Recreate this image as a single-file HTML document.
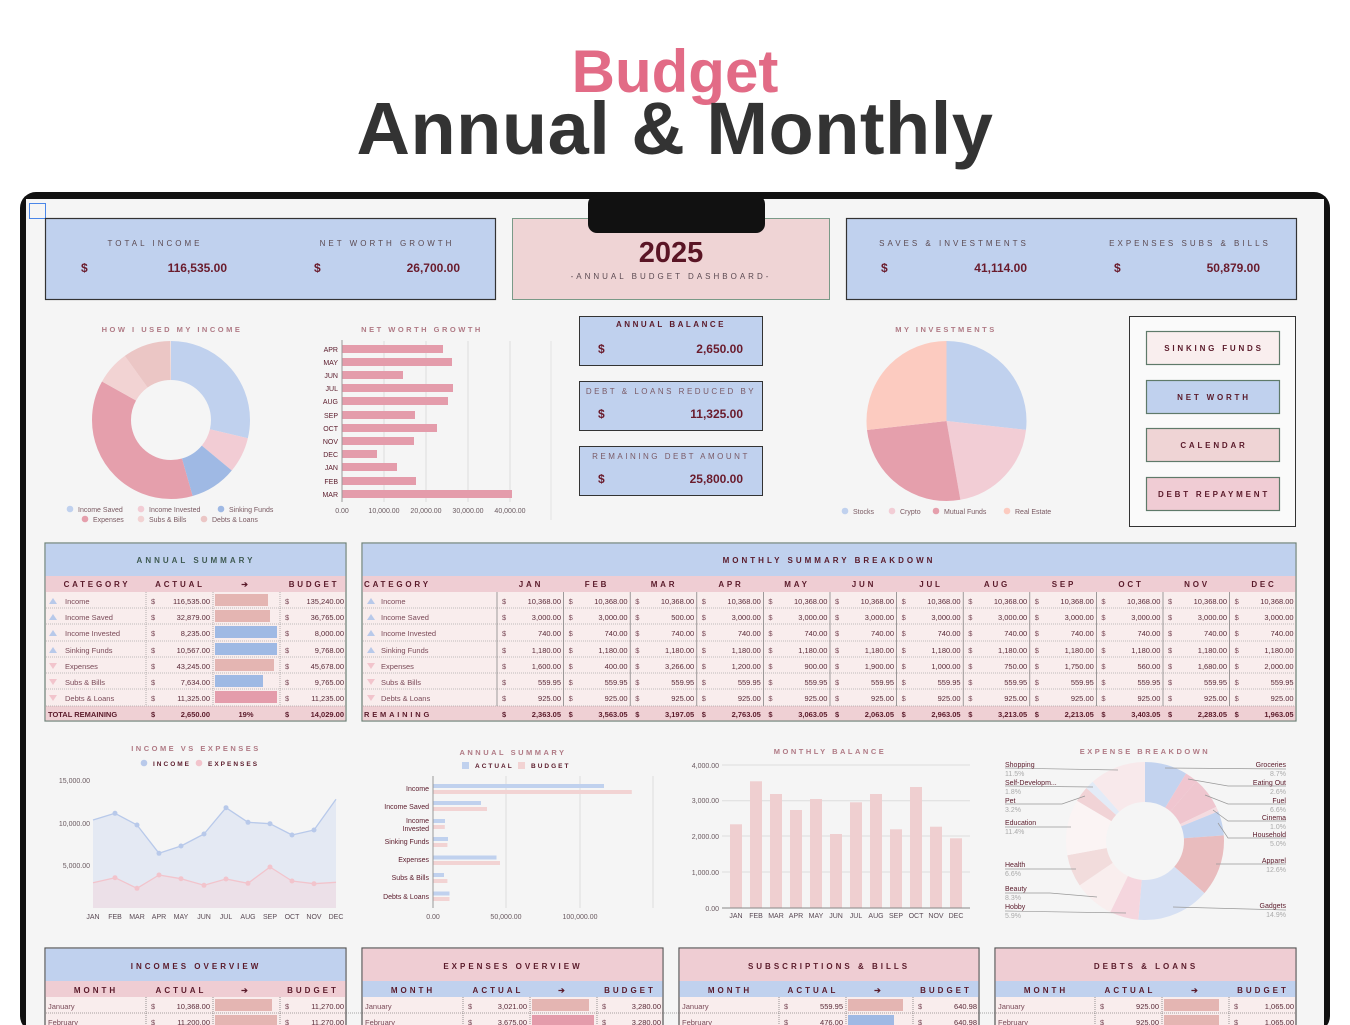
<!DOCTYPE html>
<html><head><meta charset="utf-8"><style>
html,body{margin:0;padding:0;background:#fff;width:1350px;height:1025px;overflow:hidden;}
svg{display:block;font-family:"Liberation Sans",sans-serif;}
</style></head><body>
<svg width="1350" height="1025" viewBox="0 0 1350 1025" xmlns="http://www.w3.org/2000/svg">
<!-- titles -->
<text x="675" y="92" text-anchor="middle" font-size="60" font-weight="bold" fill="#e26b86">Budget</text>
<text x="675" y="154" text-anchor="middle" font-size="74" font-weight="bold" fill="#333" letter-spacing="0.5">Annual &amp; Monthly</text>
<!-- device -->
<rect x="20" y="192" width="1310" height="840" rx="16" fill="#111"/>
<rect x="26" y="199" width="1298" height="830" fill="#f5f5f5"/>
<rect x="29.5" y="203.5" width="16" height="15" fill="none" stroke="#4a86e8" stroke-width="1"/>

<g font-weight="bold">
<!-- top cards -->
<rect x="45.5" y="218.5" width="450" height="81" fill="#c0d1ee" stroke="#333" stroke-width="1.2"/>
<text x="155" y="246" text-anchor="middle" font-size="8" letter-spacing="3" fill="#5b4a52" font-weight="normal">TOTAL INCOME</text>
<text x="387" y="246" text-anchor="middle" font-size="8" letter-spacing="3" fill="#5b4a52" font-weight="normal">NET WORTH GROWTH</text>
<text x="81" y="272" font-size="12" fill="#6a1b2c">$</text>
<text x="227" y="272" text-anchor="end" font-size="12" fill="#6a1b2c">116,535.00</text>
<text x="314" y="272" font-size="12" fill="#6a1b2c">$</text>
<text x="460" y="272" text-anchor="end" font-size="12" fill="#6a1b2c">26,700.00</text>

<rect x="512.5" y="218.5" width="317" height="81" fill="#efd4d5" stroke="#7a9a88" stroke-width="1"/>
<rect x="588" y="195" width="177" height="38" rx="9" fill="#111"/>
<text x="671" y="262" text-anchor="middle" font-size="29" fill="#5a1525">2025</text>
<text x="671" y="279" text-anchor="middle" font-size="8" letter-spacing="3" fill="#5b4a52" font-weight="normal">-ANNUAL BUDGET DASHBOARD-</text>

<rect x="846.5" y="218.5" width="450" height="81" fill="#c0d1ee" stroke="#333" stroke-width="1.2"/>
<text x="954" y="246" text-anchor="middle" font-size="8" letter-spacing="3" fill="#5b4a52" font-weight="normal">SAVES &amp; INVESTMENTS</text>
<text x="1190" y="246" text-anchor="middle" font-size="8" letter-spacing="3" fill="#5b4a52" font-weight="normal">EXPENSES SUBS &amp; BILLS</text>
<text x="881" y="272" font-size="12" fill="#6a1b2c">$</text>
<text x="1027" y="272" text-anchor="end" font-size="12" fill="#6a1b2c">41,114.00</text>
<text x="1114" y="272" font-size="12" fill="#6a1b2c">$</text>
<text x="1260" y="272" text-anchor="end" font-size="12" fill="#6a1b2c">50,879.00</text>

<!-- chart titles -->
<g font-size="7.5" letter-spacing="2.5" fill="#b07a85" text-anchor="middle">
<text x="172" y="332">HOW I USED MY INCOME</text>
<text x="422" y="332">NET WORTH GROWTH</text>
<text x="946" y="332">MY INVESTMENTS</text>
<text x="196" y="751">INCOME VS EXPENSES</text>
<text x="513" y="755">ANNUAL SUMMARY</text>
<text x="830" y="754">MONTHLY BALANCE</text>
<text x="1145" y="754">EXPENSE BREAKDOWN</text>
</g>
</g>

<!-- income donut -->
<g transform="rotate(-90 171 420)" fill="none" stroke-width="39">
<circle cx="171" cy="420" r="59.5" pathLength="100" stroke="#c0d1ee" stroke-dasharray="28.75 100"/>
<circle cx="171" cy="420" r="59.5" pathLength="100" stroke="#f2ccd4" stroke-dasharray="7.33 100" stroke-dashoffset="-28.75"/>
<circle cx="171" cy="420" r="59.5" pathLength="100" stroke="#9fb9e4" stroke-dasharray="9.56 100" stroke-dashoffset="-36.08"/>
<circle cx="171" cy="420" r="59.5" pathLength="100" stroke="#e59fac" stroke-dasharray="37.56 100" stroke-dashoffset="-45.64"/>
<circle cx="171" cy="420" r="59.5" pathLength="100" stroke="#f2d3d3" stroke-dasharray="6.97 100" stroke-dashoffset="-83.2"/>
<circle cx="171" cy="420" r="59.5" pathLength="100" stroke="#ebc6c5" stroke-dasharray="9.83 100" stroke-dashoffset="-90.17"/>
</g>
<g font-size="7" fill="#7a5a62">
<circle cx="70" cy="509" r="3.3" fill="#c0d1ee"/><text x="78" y="512">Income Saved</text>
<circle cx="141" cy="509" r="3.3" fill="#f2ccd4"/><text x="149" y="512">Income Invested</text>
<circle cx="221" cy="509" r="3.3" fill="#9fb9e4"/><text x="229" y="512">Sinking Funds</text>
<circle cx="85" cy="519" r="3.3" fill="#e59fac"/><text x="93" y="522">Expenses</text>
<circle cx="141" cy="519" r="3.3" fill="#f2d3d3"/><text x="149" y="522">Subs &amp; Bills</text>
<circle cx="204" cy="519" r="3.3" fill="#ebc6c5"/><text x="212" y="522">Debts &amp; Loans</text>
</g>

<!-- net worth bars -->
<g stroke="#ddd" stroke-width="1"><line x1="384" y1="341" x2="384" y2="502"/><line x1="426" y1="341" x2="426" y2="502"/><line x1="468" y1="341" x2="468" y2="502"/><line x1="510" y1="341" x2="510" y2="502"/><line x1="551" y1="341" x2="551" y2="520" stroke="#e2e2e2"/></g>
<g fill="#e49cab">
<rect x="342" y="345" width="101" height="8"/><rect x="342" y="358" width="110" height="8"/><rect x="342" y="371" width="61" height="8"/><rect x="342" y="384" width="111" height="8"/><rect x="342" y="397" width="106" height="8"/><rect x="342" y="411" width="73" height="8"/><rect x="342" y="424" width="95" height="8"/><rect x="342" y="437" width="72" height="8"/><rect x="342" y="450" width="35" height="8"/><rect x="342" y="463" width="55" height="8"/><rect x="342" y="477" width="74" height="8"/><rect x="342" y="490" width="170" height="8"/>
</g>
<line x1="342" y1="340" x2="342" y2="502" stroke="#999"/>
<g font-size="7" fill="#5a1a2a" text-anchor="end">
<text x="338" y="352">APR</text><text x="338" y="365">MAY</text><text x="338" y="378">JUN</text><text x="338" y="391">JUL</text><text x="338" y="404">AUG</text><text x="338" y="418">SEP</text><text x="338" y="431">OCT</text><text x="338" y="444">NOV</text><text x="338" y="457">DEC</text><text x="338" y="470">JAN</text><text x="338" y="484">FEB</text><text x="338" y="497">MAR</text>
</g>
<g font-size="7" fill="#6a5a60" text-anchor="middle">
<text x="342" y="513">0.00</text><text x="384" y="513">10,000.00</text><text x="426" y="513">20,000.00</text><text x="468" y="513">30,000.00</text><text x="510" y="513">40,000.00</text>
</g>

<!-- balance cards -->
<g font-weight="bold">
<rect x="579.5" y="316.5" width="183" height="49" fill="#c0d1ee" stroke="#333"/>
<text x="671" y="327" text-anchor="middle" font-size="8" letter-spacing="2.5" fill="#5a1a2a">ANNUAL BALANCE</text>
<text x="598" y="353" font-size="12" fill="#6a1b2c">$</text><text x="743" y="353" text-anchor="end" font-size="12" fill="#6a1b2c">2,650.00</text>
<rect x="579.5" y="381.5" width="183" height="49" fill="#c0d1ee" stroke="#333"/>
<text x="671" y="394" text-anchor="middle" font-size="8" letter-spacing="2.5" fill="#7a5a66" font-weight="normal">DEBT &amp; LOANS REDUCED BY</text>
<text x="598" y="418" font-size="12" fill="#6a1b2c">$</text><text x="743" y="418" text-anchor="end" font-size="12" fill="#6a1b2c">11,325.00</text>
<rect x="579.5" y="446.5" width="183" height="49" fill="#c0d1ee" stroke="#333"/>
<text x="671" y="459" text-anchor="middle" font-size="8" letter-spacing="2.5" fill="#7a5a66" font-weight="normal">REMAINING DEBT AMOUNT</text>
<text x="598" y="483" font-size="12" fill="#6a1b2c">$</text><text x="743" y="483" text-anchor="end" font-size="12" fill="#6a1b2c">25,800.00</text>
</g>

<!-- investments pie -->
<g transform="rotate(-90 946.5 421)" fill="none" stroke-width="80">
<circle cx="946.5" cy="421" r="40" pathLength="100" stroke="#c0d1ee" stroke-dasharray="26.78 100"/>
<circle cx="946.5" cy="421" r="40" pathLength="100" stroke="#f2cdd5" stroke-dasharray="20.44 100" stroke-dashoffset="-26.78"/>
<circle cx="946.5" cy="421" r="40" pathLength="100" stroke="#e59fac" stroke-dasharray="25.97 100" stroke-dashoffset="-47.22"/>
<circle cx="946.5" cy="421" r="40" pathLength="100" stroke="#fccbc0" stroke-dasharray="26.81 100" stroke-dashoffset="-73.19"/>
</g>
<g font-size="7" fill="#7a5a62">
<circle cx="845" cy="511" r="3.3" fill="#c0d1ee"/><text x="853" y="514">Stocks</text>
<circle cx="892" cy="511" r="3.3" fill="#f2cdd5"/><text x="900" y="514">Crypto</text>
<circle cx="936" cy="511" r="3.3" fill="#e59fac"/><text x="944" y="514">Mutual Funds</text>
<circle cx="1007" cy="511" r="3.3" fill="#fccbc0"/><text x="1015" y="514">Real Estate</text>
</g>

<!-- nav -->
<rect x="1129.5" y="316.5" width="166" height="210" fill="#fafafa" stroke="#333"/>
<g stroke="#5f7a6a" stroke-width="1.2">
<rect x="1146.5" y="331.5" width="133" height="33" fill="#f9eeee"/>
<rect x="1146.5" y="380.5" width="133" height="33" fill="#c0d1ee"/>
<rect x="1146.5" y="428.5" width="133" height="33" fill="#efd4d5"/>
<rect x="1146.5" y="477.5" width="133" height="33" fill="#f0ccd4"/>
</g>
<g font-size="8" font-weight="bold" letter-spacing="2.8" fill="#5a1a2a" text-anchor="middle">
<text x="1214" y="351">SINKING FUNDS</text><text x="1214" y="400">NET WORTH</text><text x="1214" y="448">CALENDAR</text><text x="1214" y="497">DEBT REPAYMENT</text>
</g>

<!-- ANNUAL SUMMARY TABLE -->
<rect x="45" y="543" width="301" height="178" fill="#f9eded" stroke="#6a7f74" stroke-width="1.2"/>
<rect x="45.6" y="543.6" width="299.8" height="32.4" fill="#c0d1ee"/>
<rect x="45.6" y="576" width="299.8" height="16" fill="#efcdd3"/>
<rect x="45.6" y="706" width="299.8" height="14.4" fill="#efd0d4"/>
<text x="196" y="563" text-anchor="middle" font-size="8" font-weight="bold" letter-spacing="3" fill="#3f5a52">ANNUAL SUMMARY</text>
<g font-size="8" font-weight="bold" letter-spacing="2.8" fill="#5a1a2a" text-anchor="middle">
<text x="97" y="587">CATEGORY</text><text x="180" y="587">ACTUAL</text><text x="246" y="587">➔</text><text x="314" y="587">BUDGET</text>
</g>
<g stroke="#888" stroke-width="0.6" stroke-dasharray="1 1">
<line x1="46" y1="608" x2="345" y2="608"/><line x1="46" y1="624" x2="345" y2="624"/><line x1="46" y1="641" x2="345" y2="641"/><line x1="46" y1="657" x2="345" y2="657"/><line x1="46" y1="673" x2="345" y2="673"/><line x1="46" y1="689" x2="345" y2="689"/><line x1="46" y1="706" x2="345" y2="706"/>
<line x1="146" y1="592" x2="146" y2="706"/><line x1="213" y1="592" x2="213" y2="706"/><line x1="280" y1="592" x2="280" y2="706"/>
</g>
<g fill="#b8c9ea"><path d="M49 604 L53 598 L57 604Z"/><path d="M49 620 L53 614 L57 620Z"/><path d="M49 636 L53 630 L57 636Z"/><path d="M49 653 L53 647 L57 653Z"/></g>
<g fill="#f2c4cc"><path d="M49 663 L53 669 L57 663Z"/><path d="M49 679 L53 685 L57 679Z"/><path d="M49 695 L53 701 L57 695Z"/></g>
<rect x="215" y="594" width="53" height="12" fill="#e4b5b2"/>
<rect x="215" y="610" width="55" height="12" fill="#e4b5b2"/>
<rect x="215" y="626" width="62" height="12" fill="#9fb9e4"/>
<rect x="215" y="643" width="62" height="12" fill="#9fb9e4"/>
<rect x="215" y="659" width="59" height="12" fill="#e4b5b2"/>
<rect x="215" y="675" width="48" height="12" fill="#9fb9e4"/>
<rect x="215" y="691" width="62" height="12" fill="#e49cab"/>
<g font-size="7.5" fill="#7a4a58">
<text x="65" y="604">Income</text><text x="65" y="620">Income Saved</text><text x="65" y="636">Income Invested</text><text x="65" y="653">Sinking Funds</text><text x="65" y="669">Expenses</text><text x="65" y="685">Subs &amp; Bills</text><text x="65" y="701">Debts &amp; Loans</text>
<text x="151" y="604">$</text><text x="151" y="620">$</text><text x="151" y="636">$</text><text x="151" y="653">$</text><text x="151" y="669">$</text><text x="151" y="685">$</text><text x="151" y="701">$</text>
<text x="285" y="604">$</text><text x="285" y="620">$</text><text x="285" y="636">$</text><text x="285" y="653">$</text><text x="285" y="669">$</text><text x="285" y="685">$</text><text x="285" y="701">$</text>
</g>
<g font-size="7.5" fill="#5a2a38" text-anchor="end">
<text x="210" y="604">116,535.00</text><text x="210" y="620">32,879.00</text><text x="210" y="636">8,235.00</text><text x="210" y="653">10,567.00</text><text x="210" y="669">43,245.00</text><text x="210" y="685">7,634.00</text><text x="210" y="701">11,325.00</text>
<text x="344" y="604">135,240.00</text><text x="344" y="620">36,765.00</text><text x="344" y="636">8,000.00</text><text x="344" y="653">9,768.00</text><text x="344" y="669">45,678.00</text><text x="344" y="685">9,765.00</text><text x="344" y="701">11,235.00</text>
</g>
<g font-size="7.5" font-weight="bold" fill="#5a1a2a">
<text x="48" y="717">TOTAL REMAINING</text><text x="151" y="717">$</text><text x="210" y="717" text-anchor="end">2,650.00</text><text x="246" y="717" text-anchor="middle">19%</text><text x="285" y="717">$</text><text x="344" y="717" text-anchor="end">14,029.00</text>
</g>

<!-- MONTHLY SUMMARY TABLE -->
<rect x="362" y="543" width="934" height="178" fill="#f9eded" stroke="#6a7f74" stroke-width="1.2"/>
<rect x="362.6" y="543.6" width="932.8" height="32.4" fill="#c0d1ee"/>
<rect x="362.6" y="576" width="932.8" height="16" fill="#efcdd3"/>
<rect x="362.6" y="706" width="932.8" height="14.4" fill="#efd0d4"/>
<text x="829" y="563" text-anchor="middle" font-size="8" font-weight="bold" letter-spacing="3" fill="#5a1a2a">MONTHLY SUMMARY BREAKDOWN</text>
<g font-size="8" font-weight="bold" letter-spacing="2.8" fill="#5a1a2a">
<text x="364" y="587">CATEGORY</text>
<g text-anchor="middle"><text y="587"><tspan x="531">JAN</tspan><tspan x="597">FEB</tspan><tspan x="664">MAR</tspan><tspan x="731">APR</tspan><tspan x="797">MAY</tspan><tspan x="864">JUN</tspan><tspan x="931">JUL</tspan><tspan x="997">AUG</tspan><tspan x="1064">SEP</tspan><tspan x="1131">OCT</tspan><tspan x="1197">NOV</tspan><tspan x="1264">DEC</tspan></text></g>
</g>
<g stroke="#888" stroke-width="0.6" stroke-dasharray="1 1">
<line x1="363" y1="608" x2="1295" y2="608"/><line x1="363" y1="624" x2="1295" y2="624"/><line x1="363" y1="641" x2="1295" y2="641"/><line x1="363" y1="657" x2="1295" y2="657"/><line x1="363" y1="673" x2="1295" y2="673"/><line x1="363" y1="689" x2="1295" y2="689"/><line x1="363" y1="706" x2="1295" y2="706"/>
</g>
<g stroke="#777" stroke-width="0.7">
<line x1="497" y1="592" x2="497" y2="706"/><line x1="563.6" y1="592" x2="563.6" y2="706"/><line x1="630.2" y1="592" x2="630.2" y2="706"/><line x1="696.8" y1="592" x2="696.8" y2="706"/><line x1="763.4" y1="592" x2="763.4" y2="706"/><line x1="830" y1="592" x2="830" y2="706"/><line x1="896.6" y1="592" x2="896.6" y2="706"/><line x1="963.2" y1="592" x2="963.2" y2="706"/><line x1="1029.8" y1="592" x2="1029.8" y2="706"/><line x1="1096.4" y1="592" x2="1096.4" y2="706"/><line x1="1163" y1="592" x2="1163" y2="706"/><line x1="1229.6" y1="592" x2="1229.6" y2="706"/>
</g>
<g fill="#b8c9ea"><path d="M367 604 L371 598 L375 604Z"/><path d="M367 620 L371 614 L375 620Z"/><path d="M367 636 L371 630 L375 636Z"/><path d="M367 653 L371 647 L375 653Z"/></g>
<g fill="#f2c4cc"><path d="M367 663 L371 669 L375 663Z"/><path d="M367 679 L371 685 L375 679Z"/><path d="M367 695 L371 701 L375 695Z"/></g>
<g font-size="7.5" fill="#7a4a58">
<text x="381" y="604">Income</text><text x="381" y="620">Income Saved</text><text x="381" y="636">Income Invested</text><text x="381" y="653">Sinking Funds</text><text x="381" y="669">Expenses</text><text x="381" y="685">Subs &amp; Bills</text><text x="381" y="701">Debts &amp; Loans</text>
<text x="502 568.6 635.2 701.8 768.4 835 901.6 968.2 1034.8 1101.4 1168 1234.6" y="604">$$$$$$$$$$$$</text>
<text x="502 568.6 635.2 701.8 768.4 835 901.6 968.2 1034.8 1101.4 1168 1234.6" y="620">$$$$$$$$$$$$</text>
<text x="502 568.6 635.2 701.8 768.4 835 901.6 968.2 1034.8 1101.4 1168 1234.6" y="636">$$$$$$$$$$$$</text>
<text x="502 568.6 635.2 701.8 768.4 835 901.6 968.2 1034.8 1101.4 1168 1234.6" y="653">$$$$$$$$$$$$</text>
<text x="502 568.6 635.2 701.8 768.4 835 901.6 968.2 1034.8 1101.4 1168 1234.6" y="669">$$$$$$$$$$$$</text>
<text x="502 568.6 635.2 701.8 768.4 835 901.6 968.2 1034.8 1101.4 1168 1234.6" y="685">$$$$$$$$$$$$</text>
<text x="502 568.6 635.2 701.8 768.4 835 901.6 968.2 1034.8 1101.4 1168 1234.6" y="701">$$$$$$$$$$$$</text>
</g>
<g font-size="7.5" fill="#5a2a38" text-anchor="end">
<text y="604"><tspan x="561">10,368.00</tspan><tspan x="627.6">10,368.00</tspan><tspan x="694.2">10,368.00</tspan><tspan x="760.8">10,368.00</tspan><tspan x="827.4">10,368.00</tspan><tspan x="894">10,368.00</tspan><tspan x="960.6">10,368.00</tspan><tspan x="1027.2">10,368.00</tspan><tspan x="1093.8">10,368.00</tspan><tspan x="1160.4">10,368.00</tspan><tspan x="1227">10,368.00</tspan><tspan x="1293.6">10,368.00</tspan></text>
<text y="620"><tspan x="561">3,000.00</tspan><tspan x="627.6">3,000.00</tspan><tspan x="694.2">500.00</tspan><tspan x="760.8">3,000.00</tspan><tspan x="827.4">3,000.00</tspan><tspan x="894">3,000.00</tspan><tspan x="960.6">3,000.00</tspan><tspan x="1027.2">3,000.00</tspan><tspan x="1093.8">3,000.00</tspan><tspan x="1160.4">3,000.00</tspan><tspan x="1227">3,000.00</tspan><tspan x="1293.6">3,000.00</tspan></text>
<text y="636"><tspan x="561">740.00</tspan><tspan x="627.6">740.00</tspan><tspan x="694.2">740.00</tspan><tspan x="760.8">740.00</tspan><tspan x="827.4">740.00</tspan><tspan x="894">740.00</tspan><tspan x="960.6">740.00</tspan><tspan x="1027.2">740.00</tspan><tspan x="1093.8">740.00</tspan><tspan x="1160.4">740.00</tspan><tspan x="1227">740.00</tspan><tspan x="1293.6">740.00</tspan></text>
<text y="653"><tspan x="561">1,180.00</tspan><tspan x="627.6">1,180.00</tspan><tspan x="694.2">1,180.00</tspan><tspan x="760.8">1,180.00</tspan><tspan x="827.4">1,180.00</tspan><tspan x="894">1,180.00</tspan><tspan x="960.6">1,180.00</tspan><tspan x="1027.2">1,180.00</tspan><tspan x="1093.8">1,180.00</tspan><tspan x="1160.4">1,180.00</tspan><tspan x="1227">1,180.00</tspan><tspan x="1293.6">1,180.00</tspan></text>
<text y="669"><tspan x="561">1,600.00</tspan><tspan x="627.6">400.00</tspan><tspan x="694.2">3,266.00</tspan><tspan x="760.8">1,200.00</tspan><tspan x="827.4">900.00</tspan><tspan x="894">1,900.00</tspan><tspan x="960.6">1,000.00</tspan><tspan x="1027.2">750.00</tspan><tspan x="1093.8">1,750.00</tspan><tspan x="1160.4">560.00</tspan><tspan x="1227">1,680.00</tspan><tspan x="1293.6">2,000.00</tspan></text>
<text y="685"><tspan x="561">559.95</tspan><tspan x="627.6">559.95</tspan><tspan x="694.2">559.95</tspan><tspan x="760.8">559.95</tspan><tspan x="827.4">559.95</tspan><tspan x="894">559.95</tspan><tspan x="960.6">559.95</tspan><tspan x="1027.2">559.95</tspan><tspan x="1093.8">559.95</tspan><tspan x="1160.4">559.95</tspan><tspan x="1227">559.95</tspan><tspan x="1293.6">559.95</tspan></text>
<text y="701"><tspan x="561">925.00</tspan><tspan x="627.6">925.00</tspan><tspan x="694.2">925.00</tspan><tspan x="760.8">925.00</tspan><tspan x="827.4">925.00</tspan><tspan x="894">925.00</tspan><tspan x="960.6">925.00</tspan><tspan x="1027.2">925.00</tspan><tspan x="1093.8">925.00</tspan><tspan x="1160.4">925.00</tspan><tspan x="1227">925.00</tspan><tspan x="1293.6">925.00</tspan></text>
</g>
<g font-size="7.5" font-weight="bold" fill="#5a1a2a">
<text x="364" y="717" letter-spacing="2.8">REMAINING</text>
<text x="502 568.6 635.2 701.8 768.4 835 901.6 968.2 1034.8 1101.4 1168 1234.6" y="717">$$$$$$$$$$$$</text>
<text y="717" text-anchor="end"><tspan x="561">2,363.05</tspan><tspan x="627.6">3,563.05</tspan><tspan x="694.2">3,197.05</tspan><tspan x="760.8">2,763.05</tspan><tspan x="827.4">3,063.05</tspan><tspan x="894">2,063.05</tspan><tspan x="960.6">2,963.05</tspan><tspan x="1027.2">3,213.05</tspan><tspan x="1093.8">2,213.05</tspan><tspan x="1160.4">3,403.05</tspan><tspan x="1227">2,283.05</tspan><tspan x="1293.6">1,963.05</tspan></text>
</g>

<!-- INCOME VS EXPENSES -->
<g font-size="6.5" font-weight="bold" letter-spacing="2" fill="#5a1a2a">
<circle cx="144" cy="763" r="3.3" fill="#b8c9ea"/><text x="153" y="766">INCOME</text>
<circle cx="199" cy="763" r="3.3" fill="#f2c4cc"/><text x="208" y="766">EXPENSES</text>
</g>
<g font-size="7" fill="#6a5a60" text-anchor="end"><text x="90" y="783">15,000.00</text><text x="90" y="826">10,000.00</text><text x="90" y="868">5,000.00</text></g>
<path d="M93 820 L115 813.3 L137 825 L159 853.3 L181 846 L204 834 L226 807.7 L248 822.3 L270 823.7 L292 835 L314 830 L336 799.3 L336 908 L93 908Z" fill="#e4e9f3"/>
<path d="M93 882.7 L115 877.7 L137 888.3 L159 875 L181 878.7 L204 885.3 L226 879 L248 883.3 L270 867 L292 881 L314 883.7 L336 882.3 L336 908 L93 908Z" fill="#ece0e8"/>
<polyline points="93,820 115,813.3 137,825 159,853.3 181,846 204,834 226,807.7 248,822.3 270,823.7 292,835 314,830 336,799.3" fill="none" stroke="#b8c9ea" stroke-width="1.3" stroke-linejoin="round"/>
<polyline points="93,882.7 115,877.7 137,888.3 159,875 181,878.7 204,885.3 226,879 248,883.3 270,867 292,881 314,883.7 336,882.3" fill="none" stroke="#f2c4cc" stroke-width="1.3" stroke-linejoin="round"/>
<g fill="#b8c9ea"><circle cx="115" cy="813.3" r="2.5"/><circle cx="137" cy="825" r="2.5"/><circle cx="159" cy="853.3" r="2.5"/><circle cx="181" cy="846" r="2.5"/><circle cx="204" cy="834" r="2.5"/><circle cx="226" cy="807.7" r="2.5"/><circle cx="248" cy="822.3" r="2.5"/><circle cx="270" cy="823.7" r="2.5"/><circle cx="292" cy="835" r="2.5"/><circle cx="314" cy="830" r="2.5"/></g>
<g fill="#f2c4cc"><circle cx="115" cy="877.7" r="2.5"/><circle cx="137" cy="888.3" r="2.5"/><circle cx="159" cy="875" r="2.5"/><circle cx="181" cy="878.7" r="2.5"/><circle cx="204" cy="885.3" r="2.5"/><circle cx="226" cy="879" r="2.5"/><circle cx="248" cy="883.3" r="2.5"/><circle cx="270" cy="867" r="2.5"/><circle cx="292" cy="881" r="2.5"/><circle cx="314" cy="883.7" r="2.5"/></g>
<g font-size="7" fill="#5a4a55" text-anchor="middle"><text y="919"><tspan x="93">JAN</tspan><tspan x="115">FEB</tspan><tspan x="137">MAR</tspan><tspan x="159">APR</tspan><tspan x="181">MAY</tspan><tspan x="204">JUN</tspan><tspan x="226">JUL</tspan><tspan x="248">AUG</tspan><tspan x="270">SEP</tspan><tspan x="292">OCT</tspan><tspan x="314">NOV</tspan><tspan x="336">DEC</tspan></text></g>

<!-- ANNUAL SUMMARY CHART -->
<g font-size="6.5" font-weight="bold" letter-spacing="2" fill="#5a1a2a">
<rect x="462" y="762" width="7" height="7" fill="#c0d1ee"/><text x="475" y="768">ACTUAL</text>
<rect x="518" y="762" width="7" height="7" fill="#f2d3d3"/><text x="531" y="768">BUDGET</text>
</g>
<g stroke="#ddd"><line x1="506" y1="776" x2="506" y2="908"/><line x1="580" y1="776" x2="580" y2="908"/><line x1="653" y1="776" x2="653" y2="908"/></g>
<g fill="#c0d1ee"><rect x="433" y="784" width="171" height="4"/><rect x="433" y="801" width="48" height="4"/><rect x="433" y="819" width="12" height="4"/><rect x="433" y="837" width="15" height="4"/><rect x="433" y="855.5" width="63.5" height="4"/><rect x="433" y="873" width="11" height="4"/><rect x="433" y="891.5" width="16.5" height="4"/></g>
<g fill="#f2d3d3"><rect x="433" y="790" width="198.8" height="4"/><rect x="433" y="807" width="54" height="4"/><rect x="433" y="825" width="11.8" height="4"/><rect x="433" y="843" width="14.4" height="4"/><rect x="433" y="861" width="67" height="4"/><rect x="433" y="879" width="14.4" height="4"/><rect x="433" y="897" width="16.5" height="4"/></g>
<line x1="433" y1="776" x2="433" y2="908" stroke="#999"/>
<g font-size="7" fill="#5a1a2a" text-anchor="end">
<text x="429" y="791">Income</text><text x="429" y="809">Income Saved</text><text x="429" y="823">Income</text><text x="429" y="831">Invested</text><text x="429" y="844">Sinking Funds</text><text x="429" y="862">Expenses</text><text x="429" y="880">Subs &amp; Bills</text><text x="429" y="899">Debts &amp; Loans</text>
</g>
<g font-size="7" fill="#6a5a60" text-anchor="middle"><text x="433" y="919">0.00</text><text x="506" y="919">50,000.00</text><text x="580" y="919">100,000.00</text></g>

<!-- MONTHLY BALANCE -->
<g stroke="#ddd"><line x1="722" y1="765" x2="970" y2="765"/><line x1="722" y1="800.7" x2="970" y2="800.7"/><line x1="722" y1="836" x2="970" y2="836"/><line x1="722" y1="872" x2="970" y2="872"/></g>
<g font-size="7" fill="#6a5a60" text-anchor="end"><text x="719" y="768">4,000.00</text><text x="719" y="803">3,000.00</text><text x="719" y="839">2,000.00</text><text x="719" y="875">1,000.00</text><text x="719" y="911">0.00</text></g>
<g fill="#efcfd0">
<rect x="730" y="824.3" width="12" height="83.7"/><rect x="750" y="781.3" width="12" height="126.7"/><rect x="770" y="794" width="12" height="114"/><rect x="790" y="810" width="12" height="98"/><rect x="810" y="799" width="12" height="109"/><rect x="830" y="834" width="12" height="74"/><rect x="850" y="802.3" width="12" height="105.7"/><rect x="870" y="794" width="12" height="114"/><rect x="890" y="829.3" width="12" height="78.7"/><rect x="910" y="787" width="12" height="121"/><rect x="930" y="826.7" width="12" height="81.3"/><rect x="950" y="838.3" width="12" height="69.7"/>
</g>
<line x1="722" y1="908" x2="970" y2="908" stroke="#888"/>
<g font-size="7" fill="#5a4a55" text-anchor="middle"><text y="918"><tspan x="736">JAN</tspan><tspan x="756">FEB</tspan><tspan x="776">MAR</tspan><tspan x="796">APR</tspan><tspan x="816">MAY</tspan><tspan x="836">JUN</tspan><tspan x="856">JUL</tspan><tspan x="876">AUG</tspan><tspan x="896">SEP</tspan><tspan x="916">OCT</tspan><tspan x="936">NOV</tspan><tspan x="956">DEC</tspan></text></g>

<!-- EXPENSE BREAKDOWN -->
<g transform="rotate(-90 1145 841)" fill="none" stroke-width="40">
<circle cx="1145" cy="841" r="59" pathLength="100" stroke="#c3d3ef" stroke-dasharray="8.7 100"/>
<circle cx="1145" cy="841" r="59" pathLength="100" stroke="#f0c6d0" stroke-dasharray="2.6 100" stroke-dashoffset="-8.7"/>
<circle cx="1145" cy="841" r="59" pathLength="100" stroke="#efc6cf" stroke-dasharray="6.6 100" stroke-dashoffset="-11.3"/>
<circle cx="1145" cy="841" r="59" pathLength="100" stroke="#f4dbe0" stroke-dasharray="1 100" stroke-dashoffset="-17.9"/>
<circle cx="1145" cy="841" r="59" pathLength="100" stroke="#c3d3ef" stroke-dasharray="5 100" stroke-dashoffset="-18.9"/>
<circle cx="1145" cy="841" r="59" pathLength="100" stroke="#e9bcbe" stroke-dasharray="12.6 100" stroke-dashoffset="-23.9"/>
<circle cx="1145" cy="841" r="59" pathLength="100" stroke="#d6e0f3" stroke-dasharray="14.9 100" stroke-dashoffset="-36.5"/>
<circle cx="1145" cy="841" r="59" pathLength="100" stroke="#f5d6de" stroke-dasharray="5.9 100" stroke-dashoffset="-51.4"/>
<circle cx="1145" cy="841" r="59" pathLength="100" stroke="#f9eeee" stroke-dasharray="8.3 100" stroke-dashoffset="-57.3"/>
<circle cx="1145" cy="841" r="59" pathLength="100" stroke="#f2dcdc" stroke-dasharray="6.6 100" stroke-dashoffset="-65.6"/>
<circle cx="1145" cy="841" r="59" pathLength="100" stroke="#fbf4f4" stroke-dasharray="11.4 100" stroke-dashoffset="-72.2"/>
<circle cx="1145" cy="841" r="59" pathLength="100" stroke="#f1d3d6" stroke-dasharray="3.2 100" stroke-dashoffset="-83.6"/>
<circle cx="1145" cy="841" r="59" pathLength="100" stroke="#e3ebf7" stroke-dasharray="1.8 100" stroke-dashoffset="-86.8"/>
<circle cx="1145" cy="841" r="59" pathLength="100" stroke="#f8e9eb" stroke-dasharray="11.5 100" stroke-dashoffset="-88.6"/>
</g>
<g fill="none" stroke="#999" stroke-width="0.7">
<polyline points="1005,768 1118,770"/><polyline points="1005,786 1093,787"/><polyline points="1005,804 1062,804 1085,796"/><polyline points="1005,827 1071,827"/><polyline points="1005,869 1076,869"/><polyline points="1005,893 1050,893 1097,897"/><polyline points="1005,911 1126,913"/>
<polyline points="1286,769 1165,768"/><polyline points="1286,786 1228,786 1188,779"/><polyline points="1286,804 1228,804 1205,795"/><polyline points="1286,821 1228,821 1213,810"/><polyline points="1286,838 1228,838 1218,823"/><polyline points="1286,864 1216,864"/><polyline points="1286,910 1173,907"/>
</g>
<g font-size="7">
<g fill="#5a1a2a"><text x="1005" y="767">Shopping</text><text x="1005" y="785">Self-Developm...</text><text x="1005" y="803">Pet</text><text x="1005" y="825">Education</text><text x="1005" y="867">Health</text><text x="1005" y="891">Beauty</text><text x="1005" y="909">Hobby</text></g>
<g fill="#aaa"><text x="1005" y="776">11.5%</text><text x="1005" y="794">1.8%</text><text x="1005" y="812">3.2%</text><text x="1005" y="834">11.4%</text><text x="1005" y="876">6.6%</text><text x="1005" y="900">8.3%</text><text x="1005" y="918">5.9%</text></g>
<g fill="#5a1a2a" text-anchor="end"><text x="1286" y="767">Groceries</text><text x="1286" y="785">Eating Out</text><text x="1286" y="803">Fuel</text><text x="1286" y="820">Cinema</text><text x="1286" y="837">Household</text><text x="1286" y="863">Apparel</text><text x="1286" y="908">Gadgets</text></g>
<g fill="#aaa" text-anchor="end"><text x="1286" y="776">8.7%</text><text x="1286" y="794">2.6%</text><text x="1286" y="812">6.6%</text><text x="1286" y="829">1.0%</text><text x="1286" y="846">5.0%</text><text x="1286" y="872">12.6%</text><text x="1286" y="917">14.9%</text></g>
</g>

<!-- BOTTOM TABLES -->
<rect x="45" y="948" width="301" height="80" fill="#f9eded" stroke="#555" stroke-width="1.2"/>
<rect x="45.6" y="948.6" width="299.8" height="32.4" fill="#c0d1ee"/>
<rect x="45.6" y="981" width="299.8" height="16" fill="#efcdd3"/>
<rect x="362" y="948" width="301" height="80" fill="#f9eded" stroke="#555" stroke-width="1.2"/>
<rect x="362.6" y="948.6" width="299.8" height="32.4" fill="#efcdd3"/>
<rect x="362.6" y="981" width="299.8" height="16" fill="#c0d1ee"/>
<rect x="679" y="948" width="300" height="80" fill="#f9eded" stroke="#555" stroke-width="1.2"/>
<rect x="679.6" y="948.6" width="298.8" height="32.4" fill="#efcdd3"/>
<rect x="679.6" y="981" width="298.8" height="16" fill="#c0d1ee"/>
<rect x="995" y="948" width="301" height="80" fill="#f9eded" stroke="#555" stroke-width="1.2"/>
<rect x="995.6" y="948.6" width="299.8" height="32.4" fill="#efcdd3"/>
<rect x="995.6" y="981" width="299.8" height="16" fill="#c0d1ee"/>
<g font-size="8" font-weight="bold" letter-spacing="3" fill="#5a1a2a" text-anchor="middle">
<text x="196" y="969">INCOMES OVERVIEW</text><text x="513" y="969">EXPENSES OVERVIEW</text><text x="829" y="969">SUBSCRIPTIONS &amp; BILLS</text><text x="1146" y="969">DEBTS &amp; LOANS</text>
<text y="993"><tspan x="96">MONTH</tspan><tspan x="181">ACTUAL</tspan><tspan x="246">➔</tspan><tspan x="313">BUDGET</tspan><tspan x="413">MONTH</tspan><tspan x="498">ACTUAL</tspan><tspan x="563">➔</tspan><tspan x="630">BUDGET</tspan><tspan x="730">MONTH</tspan><tspan x="813">ACTUAL</tspan><tspan x="879">➔</tspan><tspan x="946">BUDGET</tspan><tspan x="1046">MONTH</tspan><tspan x="1130">ACTUAL</tspan><tspan x="1196">➔</tspan><tspan x="1263">BUDGET</tspan></text>
</g>
<g stroke="#555" stroke-width="0.6" stroke-dasharray="1 1">
<line x1="46" y1="1013" x2="1295" y2="1013"/>
<line x1="146" y1="997" x2="146" y2="1025"/><line x1="213" y1="997" x2="213" y2="1025"/><line x1="280" y1="997" x2="280" y2="1025"/>
<line x1="463" y1="997" x2="463" y2="1025"/><line x1="530" y1="997" x2="530" y2="1025"/><line x1="597" y1="997" x2="597" y2="1025"/>
<line x1="779" y1="997" x2="779" y2="1025"/><line x1="846" y1="997" x2="846" y2="1025"/><line x1="913" y1="997" x2="913" y2="1025"/>
<line x1="1095" y1="997" x2="1095" y2="1025"/><line x1="1162" y1="997" x2="1162" y2="1025"/><line x1="1229" y1="997" x2="1229" y2="1025"/>
</g>
<g>
<rect x="215" y="999" width="57" height="12" fill="#e4b5b2"/><rect x="215" y="1015" width="62" height="12" fill="#e4b5b2"/>
<rect x="532" y="999" width="57" height="12" fill="#e4b5b2"/><rect x="532" y="1015" width="62" height="12" fill="#e49cab"/>
<rect x="848" y="999" width="55" height="12" fill="#e4b5b2"/><rect x="848" y="1015" width="46" height="12" fill="#9fb9e4"/>
<rect x="1164" y="999" width="55" height="12" fill="#e4b5b2"/><rect x="1164" y="1015" width="55" height="12" fill="#e4b5b2"/>
</g>
<g font-size="7.5" fill="#7a4a58">
<text x="48" y="1009">January</text><text x="365" y="1009">January</text><text x="682" y="1009">January</text><text x="998" y="1009">January</text>
<text x="48" y="1025">February</text><text x="365" y="1025">February</text><text x="682" y="1025">February</text><text x="998" y="1025">February</text>
<text x="151 285 468 602 784 918 1100 1234" y="1009">$$$$$$$$</text>
<text x="151 285 468 602 784 918 1100 1234" y="1025">$$$$$$$$</text>
</g>
<g font-size="7.5" fill="#5a2a38" text-anchor="end">
<text y="1009"><tspan x="210">10,368.00</tspan><tspan x="344">11,270.00</tspan><tspan x="527">3,021.00</tspan><tspan x="661">3,280.00</tspan><tspan x="843">559.95</tspan><tspan x="977">640.98</tspan><tspan x="1159">925.00</tspan><tspan x="1294">1,065.00</tspan></text>
<text y="1025"><tspan x="210">11,200.00</tspan><tspan x="344">11,270.00</tspan><tspan x="527">3,675.00</tspan><tspan x="661">3,280.00</tspan><tspan x="843">476.00</tspan><tspan x="977">640.98</tspan><tspan x="1159">925.00</tspan><tspan x="1294">1,065.00</tspan></text>
</g>
</svg>
</body></html>
